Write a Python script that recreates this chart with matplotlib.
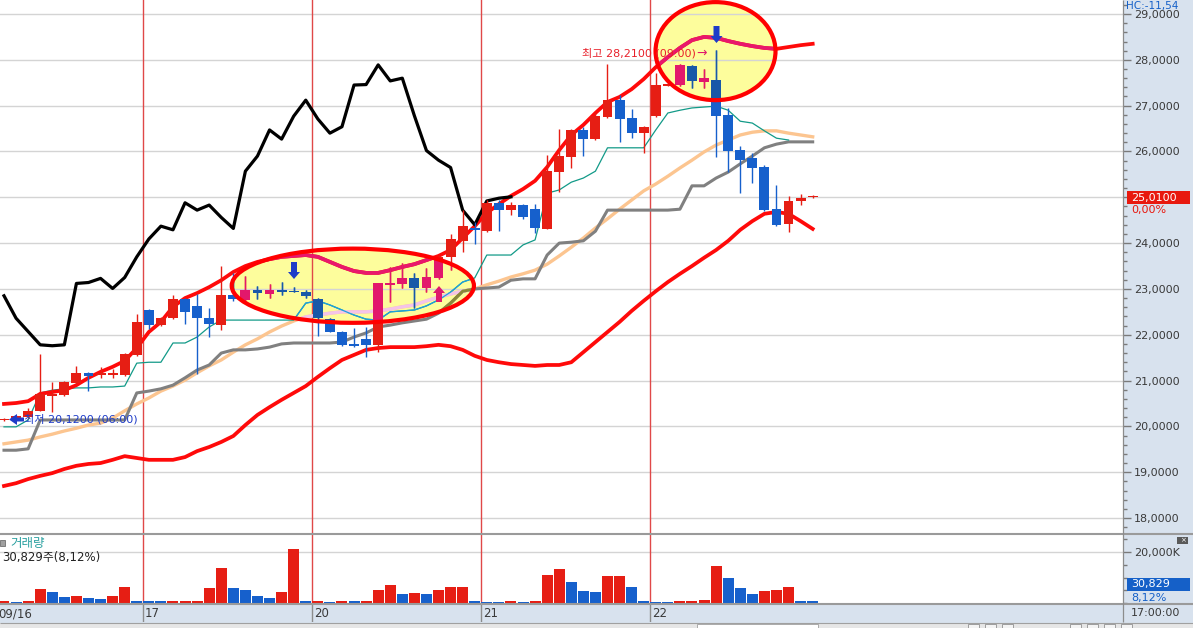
import numpy as np
import matplotlib
matplotlib.use("Agg")
import matplotlib.pyplot as plt
from matplotlib.patches import Ellipse, Rectangle, Polygon
from matplotlib.ticker import MultipleLocator, FixedLocator, FuncFormatter

plt.rcParams['font.family'] = ['DejaVu Sans', 'Noto Sans CJK KR']

# ---- data -------------------------------------------------------------
day_labels = ['09/16', '17', '20', '21', '22']
bars_per_day = [12, 14, 14, 14, 14]

opens = [20.13, 20.17, 20.20, 20.34, 20.67, 20.68, 20.94, 21.17, 21.12, 21.13, 21.12, 21.56,
         22.54, 22.21, 22.37, 22.77, 22.63, 22.36, 22.21, 22.87, 22.76, 22.98, 22.90, 22.98, 22.94, 22.94,
         22.77, 22.34, 22.07, 21.80, 21.91, 21.78, 23.09, 23.11, 23.23, 23.01, 23.23, 23.70, 24.04, 24.32,
         24.27, 24.88, 24.72, 24.83, 24.74, 24.31, 25.56, 25.89, 26.47, 26.27, 26.76, 27.12, 26.72, 26.41,
         26.78, 27.43, 27.44, 27.87, 27.52, 27.57, 26.80, 26.03, 25.85, 25.67, 24.74, 24.42, 24.91, 25.00]
highs = [20.18, 20.24, 20.40, 21.58, 20.97, 20.99, 21.32, 21.19, 21.30, 21.25, 21.60, 22.45,
         22.56, 22.39, 22.87, 22.81, 22.90, 22.58, 23.50, 23.35, 23.28, 23.06, 23.10, 23.16, 23.04, 22.98,
         22.80, 22.36, 22.09, 22.14, 22.16, 23.13, 23.48, 23.56, 23.34, 23.45, 23.75, 24.20, 24.72, 24.47,
         24.93, 24.93, 24.90, 24.85, 24.85, 25.92, 26.48, 26.50, 26.53, 26.86, 27.91, 27.23, 26.92, 26.56,
         27.71, 27.50, 27.90, 27.88, 27.81, 28.21, 26.94, 26.12, 25.97, 25.70, 25.27, 25.03, 25.07, 25.04]
lows = [20.12, 20.15, 20.19, 20.33, 20.32, 20.66, 20.92, 20.78, 21.05, 21.05, 21.10, 21.54,
        22.13, 22.19, 22.35, 22.23, 21.15, 21.95, 22.10, 22.74, 22.74, 22.78, 22.81, 22.86, 22.93, 22.80,
        21.97, 22.05, 21.76, 21.74, 21.51, 21.63, 22.72, 23.01, 22.58, 22.94, 23.21, 23.41, 23.81, 23.99,
        24.25, 24.27, 24.61, 24.52, 24.21, 24.30, 25.12, 25.64, 25.91, 26.25, 26.74, 26.21, 26.29, 25.97,
        26.76, 27.42, 27.43, 27.38, 27.38, 25.87, 25.56, 25.10, 25.32, 24.70, 24.37, 24.25, 24.83, 24.98]
closes = [20.17, 20.22, 20.34, 20.71, 20.71, 20.97, 21.17, 21.11, 21.15, 21.16, 21.57, 22.27,
          22.21, 22.37, 22.77, 22.50, 22.37, 22.23, 22.87, 22.77, 22.98, 22.91, 22.98, 22.93, 22.93, 22.85,
          22.36, 22.07, 21.78, 21.76, 21.78, 23.12, 23.14, 23.23, 23.01, 23.25, 23.70, 24.09, 24.37, 24.29,
          24.88, 24.72, 24.83, 24.56, 24.32, 25.57, 25.90, 26.47, 26.27, 26.77, 27.12, 26.71, 26.40, 26.54,
          27.45, 27.46, 27.89, 27.54, 27.60, 26.78, 26.02, 25.81, 25.65, 24.72, 24.40, 24.92, 24.98, 25.01]

# volume in thousands of shares
volumes = [600, 560, 700, 5490, 4310, 2350, 2750, 1960, 1570, 2750, 6270, 800,
           640, 600, 620, 650, 900, 5880, 13700, 5880, 5100, 2750, 1960, 4310, 21170, 600,
           620, 580, 620, 600, 900, 5100, 7060, 3530, 3920, 3530, 5100, 6270, 6270, 600,
           580, 560, 600, 580, 900, 10980, 13330, 8230, 4700, 4310, 10590, 10590, 6270, 600,
           580, 560, 600, 640, 1100, 14500, 9800, 5880, 3530, 4700, 5100, 6270, 900, 600]

upper_band = [20.49, 20.51, 20.55, 20.71, 20.75, 20.79, 20.90, 21.06, 21.19, 21.30, 21.43, 21.71,
              22.06, 22.28, 22.61, 22.80, 22.91, 23.04, 23.19, 23.37, 23.50, 23.59, 23.65, 23.70, 23.72, 23.74,
              23.70, 23.59, 23.48, 23.39, 23.35, 23.35, 23.41, 23.48, 23.54, 23.63, 23.72, 23.85, 24.11, 24.37,
              24.66, 24.85, 25.03, 25.18, 25.36, 25.66, 26.03, 26.36, 26.58, 26.84, 27.08, 27.19, 27.36, 27.58,
              27.84, 28.06, 28.26, 28.43, 28.50, 28.48, 28.41, 28.35, 28.30, 28.26, 28.24, 28.28, 28.32, 28.35]
lower_band = [18.70, 18.76, 18.85, 18.92, 18.98, 19.07, 19.14, 19.18, 19.20, 19.27, 19.35, 19.31,
              19.27, 19.27, 19.27, 19.33, 19.46, 19.55, 19.66, 19.79, 20.03, 20.25, 20.42, 20.58, 20.73, 20.88,
              21.08, 21.27, 21.45, 21.56, 21.67, 21.71, 21.73, 21.73, 21.73, 21.75, 21.78, 21.75, 21.67, 21.54,
              21.45, 21.40, 21.36, 21.34, 21.32, 21.34, 21.34, 21.40, 21.62, 21.84, 22.06, 22.28, 22.52, 22.74,
              22.95, 23.15, 23.33, 23.50, 23.68, 23.85, 24.05, 24.29, 24.48, 24.64, 24.68, 24.64, 24.48, 24.31]
mid_line = [19.62, 19.66, 19.70, 19.77, 19.83, 19.90, 19.96, 20.03, 20.07, 20.18, 20.34, 20.49,
            20.62, 20.77, 20.88, 21.01, 21.17, 21.32, 21.45, 21.62, 21.78, 21.91, 22.06, 22.19, 22.30, 22.39,
            22.43, 22.47, 22.50, 22.50, 22.50, 22.52, 22.56, 22.61, 22.65, 22.74, 22.82, 22.89, 22.95, 23.00,
            23.09, 23.17, 23.26, 23.33, 23.41, 23.54, 23.72, 23.91, 24.11, 24.33, 24.53, 24.74, 24.94, 25.14,
            25.29, 25.46, 25.64, 25.81, 25.99, 26.14, 26.25, 26.36, 26.42, 26.45, 26.45, 26.40, 26.36, 26.32]
base_line = [19.48, 19.48, 19.51, 20.14, 20.14, 20.14, 20.14, 20.14, 20.14, 20.14, 20.14, 20.73,
             20.77, 20.82, 20.90, 21.06, 21.23, 21.34, 21.60, 21.67, 21.67, 21.69, 21.73, 21.80, 21.82, 21.82,
             21.82, 21.82, 21.84, 21.95, 22.04, 22.17, 22.21, 22.26, 22.30, 22.34, 22.47, 22.69, 22.95, 23.00,
             23.02, 23.04, 23.19, 23.22, 23.22, 23.74, 24.00, 24.02, 24.05, 24.26, 24.72, 24.72, 24.72, 24.72,
             24.72, 24.72, 24.74, 25.25, 25.25, 25.42, 25.55, 25.73, 25.90, 26.08, 26.16, 26.21, 26.21, 26.21]
conv_line = [19.99, 19.99, 20.14, 20.73, 20.79, 20.82, 20.84, 20.84, 20.86, 20.86, 20.88, 21.38,
             21.40, 21.40, 21.82, 21.82, 21.95, 22.17, 22.32, 22.32, 22.32, 22.32, 22.32, 22.32, 22.32, 22.69,
             22.74, 22.65, 22.54, 22.43, 22.34, 22.32, 22.50, 22.52, 22.54, 22.63, 22.76, 22.93, 23.15, 23.24,
             23.74, 23.74, 23.74, 23.96, 24.07, 25.09, 25.16, 25.33, 25.42, 25.57, 26.08, 26.08, 26.08, 26.08,
             26.47, 26.84, 26.90, 26.95, 26.97, 26.99, 26.90, 26.66, 26.62, 26.45, 26.29, 26.25]
lag = 25  # lagging span: close shifted back
last_price = 25.01

# ---- layout -----------------------------------------------------------
W, H = 1193, 628
AX_R = 1123
fig = plt.figure(figsize=(W / 100, H / 100), dpi=100)


def box(x0, y0, x1, y1):
    return [x0 / W, 1 - y1 / H, (x1 - x0) / W, (y1 - y0) / H]


bg = fig.add_axes([0, 0, 1, 1], zorder=-2)
bg.set_xlim(0, W)
bg.set_ylim(H, 0)
bg.axis('off')
bg.add_patch(Rectangle((AX_R, 0), W - AX_R, H, color='#d8e2ee', lw=0))
bg.add_patch(Rectangle((0, 604), W, 19, color='#d8e2ee', lw=0))
bg.add_patch(Rectangle((0, 623), W, 5, color='#e6e6e6', lw=0))

ax = fig.add_axes(box(0, 0, AX_R, 533))
axv = fig.add_axes(box(0, 535, AX_R, 603))
axd = fig.add_axes(box(0, 604, AX_R, 622))
xlim = (-4 / 12.07, (AX_R - 4) / 12.07)

o = np.array(opens)
h = np.array(highs)
l = np.array(lows)
c = np.array(closes)
xs = np.arange(len(o))

for a in (ax, axv):
    a.set_xlim(*xlim)
    a.patch.set_visible(False)
    for s in a.spines.values():
        s.set_visible(False)
    a.set_xticks([])
    a.yaxis.tick_right()
    a.set_axisbelow(True)
    a.tick_params(axis='y', which='major', length=6, width=1, color='#7a7a7a', pad=2,
                  labelsize=8, labelcolor='#3a3a3a')
    a.tick_params(axis='y', which='minor', length=3, width=1, color='#7a7a7a')
    a.grid(axis='y', which='major', color='#d4d4d4', lw=1)


def price_fmt(v, p):
    # the current-price box sits on top of this level
    if abs(v - round(last_price)) < 1e-6 and abs(last_price - v) < 0.3:
        return ''
    return f'{v:.4f}'.replace('.', ',')


ax.set_ylim(17.673, 29.306)
ax.yaxis.set_major_locator(MultipleLocator(1))
ax.yaxis.set_minor_locator(MultipleLocator(0.2))
ax.yaxis.set_major_formatter(FuncFormatter(price_fmt))

axv.set_ylim(0, 26670)
axv.yaxis.set_major_locator(FixedLocator([20000]))
axv.yaxis.set_minor_locator(MultipleLocator(5000))
axv.yaxis.set_major_formatter(FuncFormatter(lambda v, p: f'{v:,.0f}K'))

axd.set_xlim(*xlim)
axd.set_ylim(0, 1)
axd.axis('off')

# day separators
starts = np.cumsum([0] + bars_per_day[:-1])
for s in starts[1:]:
    ax.axvline(s - 0.5, color='#e04848', lw=1, zorder=0.6)
    axv.axvline(s - 0.5, color='#e04848', lw=1, zorder=0.6)
    axd.axvline(s - 0.5, color='#8c8c8c', lw=1)
for k, s in enumerate(starts):
    xpos = s - 0.5 + 0.17 if k > 0 else xlim[0] - 0.17
    axd.text(xpos, 0.45, day_labels[k], fontsize=8.5, color='#3a3a3a', ha='left', va='center')

# highlight ellipses
ell_specs = [((28.9, 23.07), 20.07, 1.62), ((58.95, 28.19), 9.94, 2.14)]
fills = []
for cen, ew, eh in ell_specs:
    e = Ellipse(cen, ew, eh, facecolor='#fdfd9c', edgecolor='none', zorder=0.4)
    ax.add_patch(e)
    fills.append(e)

normal = dict(band='#ff0a0a', mid='#fcc590', base='#808080', conv='#129a88', lag='#000000',
              up='#e61e14', down='#1660cc')
tinted = dict(band='#e8186c', mid='#f4c4e8', base='#8a8838', conv='#1ea0e0', lag='#000000',
              up='#e2186c', down='#1858a8')


def draw_layer(pal, clip=None, dz=0.0):
    arts = []
    arts += ax.plot(xs, lower_band, color=pal['band'], lw=2.7, zorder=2 + dz)
    arts += ax.plot(xs, mid_line, color=pal['mid'], lw=2.4, zorder=2 + dz)
    arts += ax.plot(xs, base_line, color=pal['base'], lw=2.2, zorder=2.1 + dz)
    arts += ax.plot(xs[:len(conv_line)], conv_line, color=pal['conv'], lw=0.9, zorder=2.2 + dz)
    arts += ax.plot(xs, upper_band, color=pal['band'], lw=2.7, zorder=2.3 + dz)
    arts += ax.plot(xs[:len(c) - lag], c[lag:], color=pal['lag'], lw=2.3, zorder=2.4 + dz)
    cols = np.where(c >= o, pal['up'], pal['down'])
    arts.append(ax.vlines(xs, l, h, colors=cols, lw=1, zorder=3 + dz))
    body = ax.bar(xs, np.maximum(np.abs(c - o), 0.035), bottom=np.minimum(o, c), width=0.82,
                  color=cols, lw=0, zorder=3 + dz)
    arts += list(body)
    if clip is not None:
        for a in arts:
            a.set_clip_path(clip)


draw_layer(normal)
for f in fills:
    draw_layer(tinted, clip=f, dz=0.5)

for cen, ew, eh in ell_specs:
    ax.add_patch(Ellipse(cen, ew, eh, fill=False, edgecolor='#ff0000', lw=3, zorder=4))

# volume
v = np.array(volumes)
vcols = ['#e61e14' if i == 0 or v[i] >= v[i - 1] else '#1660cc' for i in range(len(v))]
axv.bar(xs, v, width=0.91, color=vcols, lw=0, zorder=2)

# ---- overlay: separators, markers, labels ---------------------------------
top = fig.add_axes([0, 0, 1, 1], zorder=5)
top.set_xlim(0, W)
top.set_ylim(H, 0)
top.axis('off')

top.hlines([534], 0, W, color='#9a9a9a', lw=1.5)
top.hlines([603.5], 0, W, color='#9a9a9a', lw=1.5)
top.hlines([622.5], 0, W, color='#a0a0a0', lw=0.8)
top.vlines([AX_R], 0, 622, color='#8c8c8c', lw=0.9)


def down_arrow(cx, y0, y1, col, hh=7):
    pts = [(cx - 3, y0), (cx + 3, y0), (cx + 3, y1 - hh), (cx + 6, y1 - hh), (cx, y1),
           (cx - 6, y1 - hh), (cx - 3, y1 - hh)]
    top.add_patch(Polygon(pts, closed=True, color=col, lw=0))


def up_arrow(cx, y0, y1, col, hh=7):
    pts = [(cx - 3, y0), (cx + 3, y0), (cx + 3, y1 + hh), (cx + 6, y1 + hh), (cx, y1),
           (cx - 6, y1 + hh), (cx - 3, y1 + hh)]
    top.add_patch(Polygon(pts, closed=True, color=col, lw=0))


down_arrow(294, 262, 279, '#1e3cc8')
down_arrow(716.5, 26, 43, '#1e3cc8')
up_arrow(439, 302, 286, '#e0186c')

# low marker
top.add_patch(Polygon([(9, 419.5), (17, 414), (17, 417.5), (24, 417.5), (24, 421.5), (17, 421.5),
                       (17, 425)], closed=True, color='#1e3cc8', lw=0))
top.text(24, 419.5, '최저 20,1200 (06:00)', color='#1e3cc8', fontsize=8, va='center', ha='left')
top.text(582, 53.5, '최고 28,2100 (09:00)', color='#e8202a', fontsize=8, va='center', ha='left')
top.text(696, 53.5, '→', color='#e0186c', fontsize=9, va='center', ha='left')

# right panel labels
top.add_patch(Rectangle((1127, 191), 63, 13, color='#e8190f', lw=0))
top.text(1131, 197.5, '25,0100', color='white', fontsize=8, va='center')
top.text(1131, 210.5, '0,00%', color='#e8190f', fontsize=8, va='center')
top.add_patch(Rectangle((1127, 578), 63, 13, color='#1560c8', lw=0))
top.text(1131, 584.5, '30,829', color='white', fontsize=8, va='center')
top.text(1131, 597.5, '8,12%', color='#1560c8', fontsize=8, va='center')
top.text(1131, 613, '17:00:00', color='#3a3a3a', fontsize=8, va='center')
top.text(1126, 1, 'HC:-11,54', color='#1560c8', fontsize=7.5, va='top')
top.add_patch(Rectangle((1177, 537), 11, 7, color='#5a5a5a', lw=0))
top.text(1182.5, 540.5, '×', color='white', fontsize=5, va='center', ha='center')

# volume panel title
top.add_patch(Rectangle((0, 540), 5, 6, facecolor='#a0a0a0', edgecolor='#707070', lw=0.6))
top.text(10, 543, '거래량', color='#2aa0a0', fontsize=9, va='center')
top.text(2, 557, '30,829주(8,12%)', color='#222222', fontsize=8.5, va='center')

# bottom scroll strip
top.add_patch(Rectangle((697, 624), 121, 5, facecolor='white', edgecolor='#a0a0a0', lw=0.6))
for bx in (968, 985, 1002, 1070, 1087, 1104, 1121):
    top.add_patch(Rectangle((bx, 624), 11, 5, facecolor='#f4f4f4', edgecolor='#909090', lw=0.6))

fig.savefig('out.png', dpi=100)
